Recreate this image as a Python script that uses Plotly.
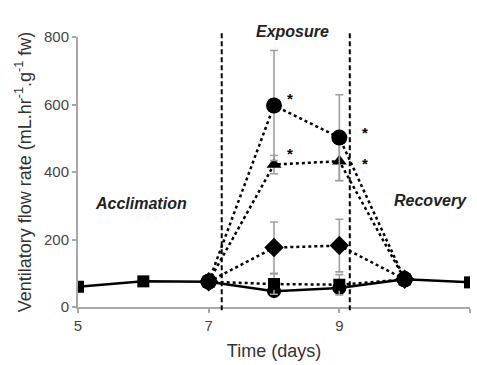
import plotly.graph_objects as go

# ---- data ----
days_all = [5, 6, 7, 8, 9, 10, 11]
control = [60, 76, 75, 47, 56, 82, 73]

days_exp = [7, 8, 9, 10]
t_square = [75, 68, 66, 82]
t_square_err = [0, 30, 30, 0]
t_diamond = [75, 176, 182, 82]
t_diamond_err = [0, 76, 78, 0]
t_triangle = [75, 422, 432, 82]
t_triangle_err = [0, 27, 58, 0]
t_circle = [75, 597, 502, 82]
t_circle_err = [0, 163, 127, 0]

phase_bounds = [7.2, 9.16]
star_x = [8.24, 8.24, 9.39, 9.39]
star_y = [617, 455, 518, 426]

x_ticks = [5, 7, 9, 11]
y_ticks = [0, 200, 400, 600, 800]

FONT = "Liberation Sans, Arial, sans-serif"
GREY = "#a8a8a8"

fig = go.Figure()

err_style = dict(type="data", visible=True, color="#a0a0a0", thickness=1.6, width=4)

# control line
fig.add_trace(go.Scatter(
    x=days_all, y=control, mode="lines",
    line=dict(color="black", width=2.5), showlegend=False))
# control low circles (days 8, 9)
fig.add_trace(go.Scatter(
    x=days_all[3:5], y=control[3:5], mode="markers",
    marker=dict(symbol="circle", size=14, color="black"), showlegend=False))

fig.add_trace(go.Scatter(
    x=days_exp, y=t_square, mode="lines+markers",
    line=dict(color="black", width=2.5, dash="dot"),
    marker=dict(symbol="square", size=12, color="black"),
    error_y=dict(array=t_square_err, **err_style),
    showlegend=False))

fig.add_trace(go.Scatter(
    x=days_exp, y=t_diamond, mode="lines+markers",
    line=dict(color="black", width=2.5, dash="dot"),
    marker=dict(symbol="diamond", size=15, color="black"),
    error_y=dict(array=t_diamond_err, **err_style),
    showlegend=False))

fig.add_trace(go.Scatter(
    x=days_exp, y=t_triangle, mode="lines+markers",
    line=dict(color="black", width=2.5, dash="dot"),
    marker=dict(symbol="triangle-up", size=13, color="black"),
    error_y=dict(array=t_triangle_err, **err_style),
    showlegend=False))

fig.add_trace(go.Scatter(
    x=days_exp, y=t_circle, mode="lines+markers",
    line=dict(color="black", width=2.5, dash="dot"),
    marker=dict(symbol="circle", size=16, color="black"),
    error_y=dict(array=t_circle_err, **err_style),
    showlegend=False))

# control squares (days 5, 6, 11)
sq_idx = [0, 1, 6]
fig.add_trace(go.Scatter(
    x=[days_all[i] for i in sq_idx], y=[control[i] for i in sq_idx], mode="markers",
    marker=dict(symbol="square", size=12, color="black"), showlegend=False))
# shared circles on days 7 and 10
ci_idx = [2, 5]
fig.add_trace(go.Scatter(
    x=[days_all[i] for i in ci_idx], y=[control[i] for i in ci_idx], mode="markers",
    marker=dict(symbol="circle", size=16, color="black"), showlegend=False))

for xb in phase_bounds:
    fig.add_shape(type="line", xref="x", yref="paper", x0=xb, x1=xb, y0=-0.012, y1=1.015,
                  line=dict(color="black", width=2, dash="5px,3px"))

for sx, sy in zip(star_x, star_y):
    fig.add_annotation(x=sx, y=sy, text="<b>*</b>", showarrow=False,
                       font=dict(family=FONT, size=15, color="black"))

lab_font = dict(family=FONT, size=16, color="#222")
fig.add_annotation(x=5.96, y=306, text="<b><i>Acclimation</i></b>", showarrow=False, font=lab_font)
fig.add_annotation(x=8.29, xref="x", y=1.059, yref="paper", text="<b><i>Exposure</i></b>",
                   showarrow=False, font=lab_font)
fig.add_annotation(x=10.4, y=315, text="<b><i>Recovery</i></b>", showarrow=False, font=lab_font)

fig.update_layout(
    width=477, height=365,
    margin=dict(l=78, r=7, t=37, b=56),
    paper_bgcolor="white", plot_bgcolor="white",
    font=dict(family=FONT, color="#333"),
    xaxis=dict(range=[5, 11], tickvals=x_ticks, showgrid=False, zeroline=False,
               showline=True, linecolor=GREY, linewidth=2,
               ticks="outside", ticklen=4, tickcolor=GREY, tickwidth=1.5,
               tickfont=dict(size=15, color="#444"),
               title=dict(text="Time (days)", font=dict(size=18, color="#333"), standoff=11)),
    yaxis=dict(range=[0, 800], tickvals=y_ticks, showgrid=False, zeroline=False,
               showline=True, linecolor=GREY, linewidth=2,
               ticks="outside", ticklen=4, tickcolor=GREY, tickwidth=1.5,
               tickfont=dict(size=15, color="#444"),
               title=dict(text="Ventilatory flow rate (mL.hr<sup>-1</sup>.g<sup>-1</sup> fw)",
                          font=dict(size=18, color="#333"), standoff=8)),
)

fig.write_html("out.html")
